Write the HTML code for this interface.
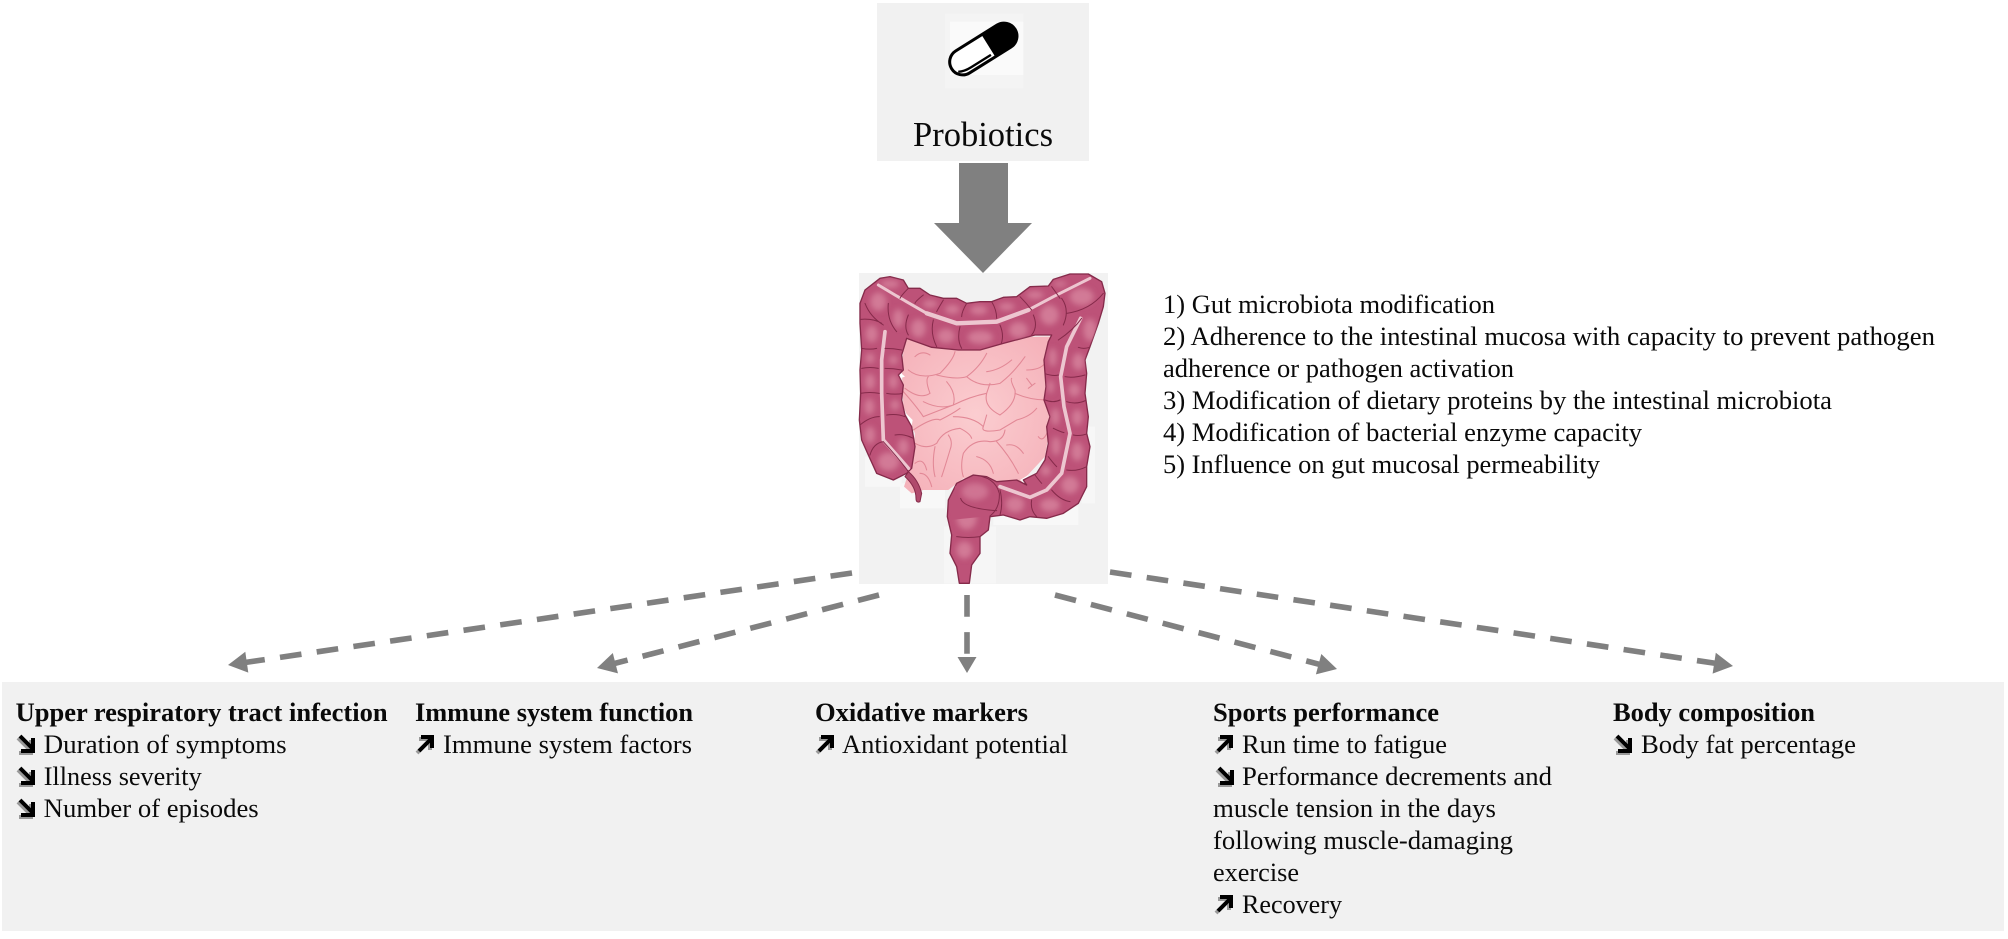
<!DOCTYPE html>
<html><head><meta charset="utf-8"><style>
html,body{margin:0;padding:0;background:#fff}
svg{display:block}
text{font-family:"Liberation Serif",serif;font-size:26.4px;fill:#0a0a0a}
.b{font-weight:bold}
.l{fill:none;stroke:#e28896;stroke-width:3.2;stroke-linecap:round}
.d{fill:none;stroke:#808080;stroke-width:5.6;stroke-dasharray:21.7 15.4}
.ar{fill:none;stroke:#000;stroke-width:4}
.sh{fill:none;stroke:#999;stroke-width:4}
.sep{fill:none;stroke:#852a4a;stroke-width:3;stroke-linecap:round}
.hl ellipse{fill:#dc8ba4;opacity:.7}
.st{fill:none;stroke:#edc6d0;stroke-linejoin:round;stroke-linecap:round}
</style></head><body>
<svg width="2008" height="939" viewBox="0 0 2008 939" xmlns="http://www.w3.org/2000/svg">
<defs>
<radialGradient id="p" cx="50%" cy="50%" r="65%"><stop offset="0" stop-color="#fbcdd0"/><stop offset="1" stop-color="#f5b2ba"/></radialGradient>
<filter id="bl" x="-30%" y="-30%" width="160%" height="160%"><feGaussianBlur stdDeviation="9"/></filter>
<clipPath id="cb"><path d="M60 130 L75 90 L120 55 L150 50 L190 60 L205 85 L240 85 L270 105 L310 115 L350 115 L380 130 L420 125 L455 125 L490 112 L530 110 L570 80 L625 78 L640 58 L690 42 L745 42 L785 65 L795 100 L790 140 L775 190 L750 260 L735 300 L740 340 L735 400 L745 470 L740 520 L750 560 L740 620 L740 680 L715 730 L670 760 L620 775 L570 770 L540 780 L490 765 L450 770 L445 810 L420 830 L420 880 L395 915 L388 970 L358 970 L350 920 L330 880 L335 825 L322 770 L325 720 L350 670 L400 645 L440 650 L470 665 L530 660 L560 675 L550 660 L590 640 L615 600 L625 550 L620 500 L630 470 L612 420 L618 380 L612 300 L625 245 L635 225 L585 225 L490 250 L420 270 L355 270 L275 262 L200 235 L185 285 L190 330 L175 345 L190 375 L185 420 L195 465 L215 500 L225 560 L215 625 L200 640 L160 660 L110 640 L85 585 L65 540 L58 480 L62 400 L60 330 L65 270 L60 190 Z"/></clipPath>
</defs>
<rect width="2008" height="939" fill="#fff"/>
<rect x="877" y="3" width="212" height="158" fill="#f1f1f1"/>
<rect x="859" y="273" width="249" height="311" fill="#f2f2f2"/>
<rect x="2" y="682" width="2002" height="249" fill="#f1f1f1"/>

<!-- pill -->
<g transform="translate(840 0) scale(.33333)">
<rect x="315" y="40" width="235" height="225" fill="#f4f4f4"/>
<rect x="330" y="65" width="220" height="160" fill="#fafafa"/>
<g transform="translate(430 147) rotate(-32)">
<rect x="-112" y="-39" width="224" height="78" rx="39" fill="#fff" stroke="#000" stroke-width="9"/>
<path d="M18 -39 H73 A39 39 0 0 1 73 39 H18 Z" fill="#000"/>
<path d="M-100 18 Q-85 27 -60 27 H10" fill="none" stroke="#000" stroke-width="7"/>
</g>
</g>
<text x="913" y="146" style="font-size:34.5px" textLength="140" lengthAdjust="spacingAndGlyphs">Probiotics</text>

<!-- big arrow -->
<polygon points="959,163 1008,163 1008,223 1032,223 983,273 934,223 959,223" fill="#808080"/>

<!-- gut -->
<g transform="translate(840 260) scale(.33333)">
<rect x="180" y="670" width="135" height="75" fill="#f8f8f8"/>
<rect x="312" y="800" width="156" height="170" fill="#f6f6f6"/>
<rect x="75" y="590" width="110" height="90" fill="#f7f7f7"/>
<rect x="460" y="740" width="255" height="55" fill="#f8f8f8"/>
<rect x="725" y="500" width="40" height="230" fill="#f7f7f7"/>
<!-- small intestine -->
<path d="M195 235 L630 230 L630 500 L615 590 L545 665 L450 665 L370 655 L325 690 L250 690 L215 700 L192 680 L215 610 L225 520 L190 440 L185 320 Z" fill="url(#p)"/>
<polygon points="178,335 195,350 180,355" fill="#fff"/>
<polygon points="198,460 218,480 215,498" fill="#fff"/>
<polygon points="540,660 565,645 552,668" fill="#fff"/>
<path class="l" d="M205 330 Q240 360 300 340 Q340 300 345 275 M290 345 Q350 360 380 350 Q420 320 440 280 M380 350 Q420 385 480 370 Q520 340 555 290 M440 335 Q480 330 515 300 M225 290 Q245 270 270 285 M560 330 Q600 330 615 310"/>
<path class="l" d="M195 385 Q240 420 270 400 Q255 360 265 350 M250 425 Q300 450 340 435 Q350 400 320 365 M190 395 Q230 440 250 470 Q300 450 340 435 M340 435 Q390 410 440 400 L450 370 M440 400 Q430 440 480 465 Q530 430 525 390 Q510 360 515 355 M525 400 Q570 420 620 420 M565 385 L585 370 M575 375 L560 355"/>
<path class="l" d="M220 510 Q280 470 300 480 Q340 460 360 445 M340 470 Q400 470 430 500 L440 465 M430 500 Q420 520 480 510 L530 480 Q570 470 590 445 M225 550 Q260 570 290 550 Q310 510 360 505 Q390 520 395 535 M325 525 Q340 545 330 570 Q315 620 305 650"/>
<path class="l" d="M285 560 Q275 610 285 650 M370 580 Q400 535 450 545 Q490 545 495 510 M370 580 Q360 620 370 650 M410 590 Q450 600 460 640 M470 545 Q510 590 535 640 M500 555 Q530 550 550 580 M225 610 Q250 590 260 630 M595 530 Q610 550 625 510 M240 640 Q265 640 275 680"/>
<!-- appendix -->
<path d="M205 635 Q235 660 245 700 L240 725 Q228 730 228 715 Q228 680 195 650 Z" fill="#b04a6c" stroke="#852a4a" stroke-width="3"/>
<!-- colon body -->
<path d="M60 130 L75 90 L120 55 L150 50 L190 60 L205 85 L240 85 L270 105 L310 115 L350 115 L380 130 L420 125 L455 125 L490 112 L530 110 L570 80 L625 78 L640 58 L690 42 L745 42 L785 65 L795 100 L790 140 L775 190 L750 260 L735 300 L740 340 L735 400 L745 470 L740 520 L750 560 L740 620 L740 680 L715 730 L670 760 L620 775 L570 770 L540 780 L490 765 L450 770 L445 810 L420 830 L420 880 L395 915 L388 970 L358 970 L350 920 L330 880 L335 825 L322 770 L325 720 L350 670 L400 645 L440 650 L470 665 L530 660 L560 675 L550 660 L590 640 L615 600 L625 550 L620 500 L630 470 L612 420 L618 380 L612 300 L625 245 L635 225 L585 225 L490 250 L420 270 L355 270 L275 262 L200 235 L185 285 L190 330 L175 345 L190 375 L185 420 L195 465 L215 500 L225 560 L215 625 L200 640 L160 660 L110 640 L85 585 L65 540 L58 480 L62 400 L60 330 L65 270 L60 190 Z" fill="#bd5278" stroke="#852a4a" stroke-width="4" stroke-linejoin="round"/>
<!-- highlights -->
<g clip-path="url(#cb)"><g class="hl" filter="url(#bl)">
<ellipse cx="115" cy="125" rx="24" ry="28"/><ellipse cx="95" cy="222" rx="18" ry="26"/><ellipse cx="90" cy="295" rx="14" ry="16"/><ellipse cx="90" cy="365" rx="15" ry="24"/><ellipse cx="88" cy="440" rx="15" ry="24"/><ellipse cx="90" cy="525" rx="15" ry="26"/>
<ellipse cx="160" cy="300" rx="14" ry="14"/><ellipse cx="160" cy="365" rx="14" ry="22"/><ellipse cx="165" cy="435" rx="14" ry="16"/><ellipse cx="190" cy="560" rx="16" ry="24"/><ellipse cx="145" cy="605" rx="32" ry="28"/>
<ellipse cx="175" cy="175" rx="16" ry="28"/><ellipse cx="235" cy="205" rx="22" ry="28"/><ellipse cx="318" cy="228" rx="26" ry="22"/><ellipse cx="421" cy="232" rx="38" ry="20"/><ellipse cx="535" cy="210" rx="28" ry="24"/><ellipse cx="628" cy="165" rx="28" ry="30"/><ellipse cx="725" cy="110" rx="36" ry="26"/>
<ellipse cx="150" cy="72" rx="28" ry="12"/><ellipse cx="270" cy="132" rx="22" ry="12"/><ellipse cx="337" cy="148" rx="22" ry="14"/><ellipse cx="416" cy="150" rx="26" ry="14"/><ellipse cx="500" cy="140" rx="24" ry="12"/><ellipse cx="585" cy="105" rx="26" ry="12"/><ellipse cx="660" cy="72" rx="20" ry="8"/>
<ellipse cx="750" cy="210" rx="20" ry="34"/><ellipse cx="715" cy="305" rx="18" ry="26"/><ellipse cx="703" cy="390" rx="18" ry="20"/><ellipse cx="712" cy="472" rx="16" ry="24"/><ellipse cx="712" cy="575" rx="18" ry="28"/><ellipse cx="690" cy="675" rx="26" ry="26"/>
<ellipse cx="638" cy="292" rx="12" ry="28"/><ellipse cx="632" cy="380" rx="10" ry="20"/><ellipse cx="646" cy="470" rx="13" ry="26"/><ellipse cx="648" cy="558" rx="13" ry="28"/><ellipse cx="617" cy="632" rx="15" ry="16"/>
<ellipse cx="630" cy="735" rx="30" ry="20"/><ellipse cx="525" cy="733" rx="28" ry="24"/><ellipse cx="405" cy="695" rx="40" ry="26"/><ellipse cx="380" cy="775" rx="30" ry="34"/><ellipse cx="373" cy="870" rx="24" ry="26"/>
</g>
<!-- mesentery strips -->
<path class="st" stroke-width="9" d="M115 75 L165 105 L260 160"/>
<path class="st" stroke-width="13" d="M260 160 L350 190 L470 185 L565 150"/>
<path class="st" stroke-width="9" d="M565 150 L640 110 L750 55"/>
<path class="st" stroke-width="11" d="M135 215 L125 300 L125 400 L130 540 L205 625"/>
<path class="st" stroke-width="11" d="M722 175 L680 260 L662 350 L672 440 L690 520 L665 640 L620 690 L570 712 L480 680"/>
<!-- separators -->
<path class="sep" d="M75 130 Q90 170 130 195 M62 178 Q100 175 125 190 M65 265 Q90 270 110 265 M65 325 Q90 320 115 325 M60 400 Q90 395 118 400 M60 495 Q90 470 118 470 M90 585 Q100 550 130 545 Q180 600 205 635"/>
<path class="sep" d="M145 130 Q140 180 170 215 M205 165 Q190 200 205 225 M280 180 Q270 220 290 260 M360 200 Q350 240 365 265 M480 195 Q495 230 480 260 M580 165 Q595 200 575 225 M665 115 Q690 150 670 195 M790 100 Q750 150 680 160 M725 175 Q700 210 655 240"/>
<path class="sep" d="M205 85 Q185 105 180 115 M250 105 Q225 125 225 130 M310 120 Q295 145 290 155 M380 130 Q365 155 365 170 M455 125 Q470 150 470 175 M540 110 Q560 130 575 150 M635 80 Q650 100 660 115"/>
<path class="sep" d="M750 262 Q730 268 715 262 M735 345 Q700 355 675 350 M740 420 Q710 435 680 425 M745 520 Q720 530 700 525 M740 620 Q710 635 680 630 M635 690 Q660 720 690 725 M575 720 Q570 750 590 770 M480 690 Q490 730 480 765"/>
<path class="sep" d="M612 340 Q640 350 655 345 M615 420 Q640 430 660 420 M640 505 Q660 515 672 518 M625 590 Q640 610 650 620 M585 645 Q600 665 605 670"/>
<path class="sep" d="M135 265 Q160 265 185 270 M135 325 Q160 325 185 330 M140 400 Q165 405 190 400 M140 465 Q170 460 195 470 M165 525 Q190 520 220 535"/>
<!-- rectum overlay -->
<path d="M345 680 Q390 640 440 652 Q480 670 478 710 Q478 750 450 768 L330 780 Z" fill="#bd5278"/>
<ellipse cx="405" cy="695" rx="40" ry="26" fill="#dc8ba4" opacity=".6" filter="url(#bl)"/>
<path class="sep" d="M400 645 Q465 650 478 700 Q480 745 450 768 M362 715 Q370 745 470 752 M350 830 Q385 835 420 830"/>
</g>
</g>

<!-- list -->
<text x="1163" y="313" textLength="332" lengthAdjust="spacingAndGlyphs">1) Gut microbiota modification</text>
<text x="1163" y="345" textLength="772" lengthAdjust="spacingAndGlyphs">2) Adherence to the intestinal mucosa with capacity to prevent pathogen</text>
<text x="1163" y="377" textLength="351" lengthAdjust="spacingAndGlyphs">adherence or pathogen activation</text>
<text x="1163" y="409" textLength="669" lengthAdjust="spacingAndGlyphs">3) Modification of dietary proteins by the intestinal microbiota</text>
<text x="1163" y="441" textLength="479" lengthAdjust="spacingAndGlyphs">4) Modification of bacterial enzyme capacity</text>
<text x="1163" y="473" textLength="437" lengthAdjust="spacingAndGlyphs">5) Influence on gut mucosal permeability</text>

<!-- dashed arrows -->
<path class="d" d="M852 573 L241.8 663"/><polygon points="228,665 248.3,672.6 245.3,651.8" fill="#808080"/>
<path class="d" d="M879 595 L610.6 664.5"/><polygon points="597,668 618,673.4 612.8,653" fill="#808080"/>
<path class="d" d="M967 595 L967 654"/><polygon points="967,673 957.5,657 976.5,657" fill="#808080"/>
<path class="d" d="M1055 595 L1323.5 665.4"/><polygon points="1337,669 1315.9,674.4 1321.3,654" fill="#808080"/>
<path class="d" d="M1110 572 L1719.2 663.9"/><polygon points="1733,666 1712.6,673.6 1715.8,652.8" fill="#808080"/>

<!-- column 1 -->
<text class="b" x="15.6" y="721" textLength="372" lengthAdjust="spacingAndGlyphs">Upper respiratory tract infection</text>
<g transform="translate(18 735)"><path class="sh" d="M0 3 L13 16 M13 5 V18 H1"/><path class="ar" d="M2 1 L15 14 M15 3 V16 H3"/></g>
<text x="43.7" y="753" textLength="243" lengthAdjust="spacingAndGlyphs">Duration of symptoms</text>
<g transform="translate(18 767)"><path class="sh" d="M0 3 L13 16 M13 5 V18 H1"/><path class="ar" d="M2 1 L15 14 M15 3 V16 H3"/></g>
<text x="43.7" y="785" textLength="158" lengthAdjust="spacingAndGlyphs">Illness severity</text>
<g transform="translate(18 799)"><path class="sh" d="M0 3 L13 16 M13 5 V18 H1"/><path class="ar" d="M2 1 L15 14 M15 3 V16 H3"/></g>
<text x="43.7" y="817" textLength="215" lengthAdjust="spacingAndGlyphs">Number of episodes</text>

<!-- column 2 -->
<text class="b" x="415" y="721" textLength="278" lengthAdjust="spacingAndGlyphs">Immune system function</text>
<g transform="translate(416 735)"><path class="sh" d="M1 18 L14 5 M3 4 H14 V15"/><path class="ar" d="M3 16 L16 3 M5 2 H16 V13"/></g>
<text x="443" y="753" textLength="249" lengthAdjust="spacingAndGlyphs">Immune system factors</text>

<!-- column 3 -->
<text class="b" x="815" y="721" textLength="213" lengthAdjust="spacingAndGlyphs">Oxidative markers</text>
<g transform="translate(816 735)"><path class="sh" d="M1 18 L14 5 M3 4 H14 V15"/><path class="ar" d="M3 16 L16 3 M5 2 H16 V13"/></g>
<text x="842" y="753" textLength="226" lengthAdjust="spacingAndGlyphs">Antioxidant potential</text>

<!-- column 4 -->
<text class="b" x="1213" y="721" textLength="226" lengthAdjust="spacingAndGlyphs">Sports performance</text>
<g transform="translate(1215 735)"><path class="sh" d="M1 18 L14 5 M3 4 H14 V15"/><path class="ar" d="M3 16 L16 3 M5 2 H16 V13"/></g>
<text x="1242" y="753" textLength="205" lengthAdjust="spacingAndGlyphs">Run time to fatigue</text>
<g transform="translate(1217 767)"><path class="sh" d="M0 3 L13 16 M13 5 V18 H1"/><path class="ar" d="M2 1 L15 14 M15 3 V16 H3"/></g>
<text x="1242" y="785" textLength="310" lengthAdjust="spacingAndGlyphs">Performance decrements and</text>
<text x="1213" y="817" textLength="283" lengthAdjust="spacingAndGlyphs">muscle tension in the days</text>
<text x="1213" y="849" textLength="300" lengthAdjust="spacingAndGlyphs">following muscle-damaging</text>
<text x="1213" y="881" textLength="86" lengthAdjust="spacingAndGlyphs">exercise</text>
<g transform="translate(1215 895)"><path class="sh" d="M1 18 L14 5 M3 4 H14 V15"/><path class="ar" d="M3 16 L16 3 M5 2 H16 V13"/></g>
<text x="1242" y="913" textLength="100" lengthAdjust="spacingAndGlyphs">Recovery</text>

<!-- column 5 -->
<text class="b" x="1613" y="721" textLength="202" lengthAdjust="spacingAndGlyphs">Body composition</text>
<g transform="translate(1615 735)"><path class="sh" d="M0 3 L13 16 M13 5 V18 H1"/><path class="ar" d="M2 1 L15 14 M15 3 V16 H3"/></g>
<text x="1641" y="753" textLength="215" lengthAdjust="spacingAndGlyphs">Body fat percentage</text>
</svg>
</body></html>
